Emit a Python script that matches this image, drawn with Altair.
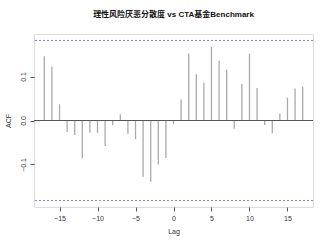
import altair as alt
import pandas as pd

lags = list(range(-17, 18))
acf_values = [0.146, 0.123, 0.037, -0.026, -0.033, -0.086, -0.028, -0.028, -0.058, -0.011,
              0.014, -0.030, -0.042, -0.128, -0.139, -0.100, -0.085, -0.008,
              0.048, 0.152, 0.105, 0.086, 0.167, 0.136, 0.116, -0.019, 0.083, 0.152,
              0.074, -0.010, -0.029, 0.016, 0.052, 0.073, 0.077]
ci_bounds = [0.182, -0.182]
x_ticks = [-15, -10, -5, 0, 5, 10, 15]
y_ticks = [-0.1, 0.0, 0.1]

df = pd.DataFrame({"lag": lags, "acf": acf_values, "zero": [0.0] * len(lags)})
ci_df = pd.DataFrame({"ci": ci_bounds})
zero_df = pd.DataFrame({"z": [0.0]})

FONT = "Liberation Sans, Noto Sans CJK SC"

xscale = alt.Scale(domain=[-18.36, 18.36], nice=False, zero=False)
yscale = alt.Scale(domain=[-0.1966, 0.1966], nice=False, zero=False)

xaxis = alt.Axis(values=x_ticks, title="Lag", grid=False, domain=False,
                 tickSize=4, tickColor="#555", labelFontSize=7, labelColor="#333",
                 labelPadding=3, titleFontSize=7, titleFontWeight="normal",
                 titleColor="#333", titlePadding=6, labelFont=FONT, titleFont=FONT)
yaxis = alt.Axis(values=y_ticks, title="ACF", grid=False, domain=False,
                 tickSize=4, tickColor="#555", labelFontSize=7, labelColor="#333",
                 labelAngle=-90, labelPadding=4, format=".1f",
                 titleFontSize=7, titleFontWeight="normal", titleColor="#333",
                 titlePadding=8, labelFont=FONT, titleFont=FONT)

bars = alt.Chart(df).mark_rule(color="#aaaaaa", strokeWidth=1.3).encode(
    x=alt.X("lag:Q", scale=xscale, axis=xaxis),
    y=alt.Y("zero:Q", scale=yscale, axis=yaxis),
    y2="acf:Q",
)

zero_line = alt.Chart(zero_df).mark_rule(color="#555555", strokeWidth=1).encode(
    y=alt.Y("z:Q", scale=yscale)
)

ci_lines = alt.Chart(ci_df).mark_rule(color="#6b6bff", strokeWidth=0.9,
                                       strokeDash=[2, 2]).encode(
    y=alt.Y("ci:Q", scale=yscale)
)

chart = (bars + zero_line + ci_lines).properties(
    width=279, height=173,
    title=alt.TitleParams("理性风险厌恶分散度 vs CTA基金Benchmark", fontSize=8,
                          fontWeight="bold", font=FONT, color="#111",
                          offset=15, anchor="middle"),
    autosize=alt.AutoSizeParams(type="none"),
    padding={"left": 34, "top": 34, "right": 18, "bottom": 42},
).configure_view(stroke="#888888", strokeWidth=1).configure(background="white")

chart.save("out.html", embed_options={"renderer": "svg", "actions": False})
